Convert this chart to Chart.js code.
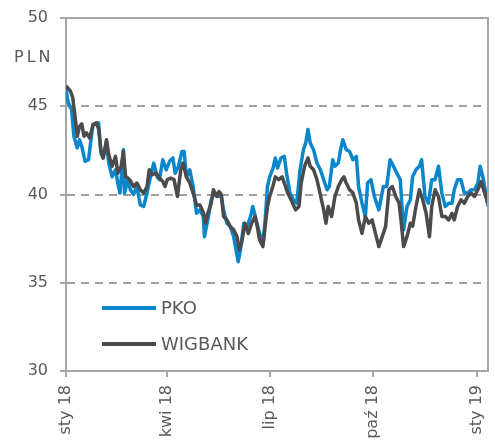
<!DOCTYPE html>
<html><head><meta charset="utf-8">
<script src="https://cdn.jsdelivr.net/npm/chart.js@4"></script>
<style>html,body{margin:0;padding:0;background:#fff;overflow:hidden}#wrap{position:relative;width:495px;height:444px}</style>
</head><body><div id="wrap"><canvas id="c"></canvas></div>
<script>
const tickDays = [0, 90, 181, 273, 365];
const tickLabels = ['sty 18', 'kwi 18', 'lip 18', 'paź 18', 'sty 19'];
const yTicks = [30, 35, 40, 45, 50];
const axisTitle = 'PLN';
const seriesNames = ['PKO', 'WIGBANK'];

const pkoDays = [0,2,5,7,10,12,14,17,20,22,24,29,31,33,36,38,41,44,46,48,51,52,55,57,60,63,66,69,72,75,78,81,83,86,89,92,95,97,100,103,105,107,110,113,116,119,122,123,126,129,132,135,138,140,143,146,149,153,155,158,161,164,166,169,172,175,177,179,181,184,186,188,191,194,196,199,202,205,208,211,213,215,217,220,223,226,229,232,234,237,239,242,244,246,249,252,255,258,260,263,266,268,271,274,278,282,285,288,291,294,297,300,303,306,308,311,314,316,319,322,325,328,331,334,337,340,343,345,348,351,354,357,360,363,366,368,371,374,375];
const pkoValues = [45.95,45.2,44.8,43.3,42.64,43.1,42.73,41.88,41.97,43.0,43.96,44.06,42.35,42.07,42.92,41.78,41.0,41.4,40.65,40.08,42.54,40.08,40.84,40.3,40.0,40.45,39.41,39.32,40.08,41.0,41.78,41.0,40.84,41.97,41.4,41.88,42.07,41.2,41.6,42.44,42.44,41.0,41.4,40.45,38.94,39.13,38.75,37.61,38.56,39.7,40.08,39.9,39.9,39.13,38.37,38.18,37.61,36.19,36.86,38.37,38.18,38.75,39.32,38.56,37.8,37.24,38.56,40.45,41.0,41.5,42.07,41.5,42.07,42.16,41.2,40.08,39.7,39.5,41.4,42.54,42.92,43.68,42.92,42.54,41.78,41.4,40.84,40.27,40.45,41.97,41.6,41.78,42.54,43.1,42.54,42.44,41.97,42.16,40.45,39.51,38.75,40.65,40.84,39.89,39.13,40.45,40.45,41.97,41.6,41.2,40.84,37.99,39.32,39.7,41.0,41.4,41.6,41.97,39.89,39.51,40.84,40.84,41.6,40.08,39.32,39.51,39.51,40.27,40.84,40.84,40.08,40.08,40.27,40.27,40.65,41.6,40.84,39.7,39.32];

const wigDays = [0,4,6,8,10,12,14,16,18,21,24,27,29,31,33,36,38,41,44,46,49,51,53,55,57,60,63,66,69,72,74,77,80,83,86,88,90,93,96,99,102,104,107,110,113,116,119,122,124,126,129,131,134,136,138,140,143,146,149,152,154,156,159,162,165,168,170,172,175,177,179,181,184,186,189,192,194,197,200,204,207,209,212,215,217,220,223,225,227,229,231,233,236,239,242,245,247,249,252,255,258,260,263,266,269,272,275,278,281,284,287,290,293,296,298,300,303,306,308,311,314,317,320,323,325,328,331,334,337,340,343,345,348,351,354,357,360,363,366,369,372,375];
const wigValues = [46.15,45.85,45.48,44.43,43.3,43.86,44.0,43.3,43.5,43.2,43.96,44.06,43.7,42.54,42.07,43.1,42.25,41.6,42.16,41.2,41.6,42.44,41.0,40.93,40.8,40.45,40.65,40.27,40.08,40.45,41.4,41.12,41.22,40.93,40.74,40.45,40.84,40.93,40.84,39.89,41.4,41.78,41.0,40.65,40.08,39.41,39.4,39.0,38.37,38.94,39.5,40.27,39.89,40.17,40.0,38.75,38.56,38.18,38.0,37.61,36.86,37.24,38.37,37.8,38.37,38.75,38.18,37.43,37.05,38.18,39.32,39.89,40.5,41.0,40.84,41.0,40.65,40.08,39.7,39.13,39.32,40.65,41.6,42.07,41.6,41.4,40.84,40.27,39.7,39.13,38.37,39.32,38.75,39.89,40.45,40.84,41.0,40.65,40.27,40.08,39.51,38.56,37.8,38.75,38.37,38.56,37.8,37.05,37.61,38.18,40.27,40.45,39.89,39.51,38.37,37.05,37.61,38.37,38.2,39.32,40.27,39.7,38.94,37.61,39.32,40.27,39.89,38.75,38.75,38.56,38.94,38.56,39.32,39.7,39.51,39.89,40.08,39.89,40.27,40.74,40.08,39.51];

const BLUE = '#0A87CB';
const DARK = '#4B4B4D';
const AXIS = '#a6a6a6';
const GRID = '#a0a0a0';
const TXT = '#595959';
const FONT = 'DejaVu Sans, Verdana, sans-serif';

const toPts = (d, v) => d.map((x, i) => ({x: x, y: v[i]}));

const extras = {
  id: 'extras',
  afterDraw(chart) {
    const ctx = chart.ctx, a = chart.chartArea;
    ctx.save();
    ctx.strokeStyle = AXIS; ctx.lineWidth = 2;
    ctx.beginPath();
    ctx.moveTo(a.left, a.top); ctx.lineTo(a.right, a.top); ctx.lineTo(a.right, a.bottom);
    ctx.stroke();
    ctx.fillStyle = TXT;
    ctx.font = '16px ' + FONT;
    ctx.textAlign = 'left'; ctx.textBaseline = 'middle';
    try { ctx.letterSpacing = '3px'; } catch(e) {}
    ctx.fillText(axisTitle, 14, 58);
    try { ctx.letterSpacing = '0px'; } catch(e) {}
    const ys = [a.bottom - 63, a.bottom - 27];
    chart.data.datasets.forEach((ds, i) => {
      const y = ys[i];
      ctx.strokeStyle = ds.borderColor; ctx.lineWidth = 4; ctx.lineCap = 'butt';
      ctx.beginPath(); ctx.moveTo(a.left + 36, y); ctx.lineTo(a.left + 90, y); ctx.stroke();
      ctx.fillStyle = TXT; ctx.font = '18px ' + FONT;
      ctx.fillText(ds.label, a.left + 95, y + 1);
    });
    ctx.restore();
  }
};

new Chart(document.getElementById('c'), {
  type: 'line',
  data: {
    datasets: [
      {label: seriesNames[0], data: toPts(pkoDays, pkoValues), borderColor: BLUE, borderWidth: 3.5, pointRadius: 0, tension: 0, order: 1, borderJoinStyle: 'round'},
      {label: seriesNames[1], data: toPts(wigDays, wigValues), borderColor: DARK, borderWidth: 3.5, pointRadius: 0, tension: 0, order: 0, borderJoinStyle: 'round'}
    ]
  },
  options: {
    responsive: true, maintainAspectRatio: false, animation: false, devicePixelRatio: 1,
    layout: {padding: {top: 18, right: 7, left: 0, bottom: 0}},
    plugins: {legend: {display: false}, tooltip: {enabled: false}},
    scales: {
      x: {
        type: 'linear', min: 0, max: 375,
        afterBuildTicks(s) { s.ticks = tickDays.map(v => ({value: v})); },
        afterFit(s) { s.height = 73; s.paddingRight = 0; s.paddingLeft = 0; },
        ticks: {
          autoSkip: false, minRotation: 90, maxRotation: 90, padding: 8,
          color: TXT, font: {family: FONT, size: 16},
          callback: (v, i) => tickLabels[i]
        },
        grid: {drawOnChartArea: false, drawTicks: true, tickLength: 6, tickColor: AXIS, tickWidth: 2, color: AXIS, lineWidth: 2},
        border: {color: AXIS, width: 2}
      },
      y: {
        min: 30, max: 50,
        afterBuildTicks(s) { s.ticks = yTicks.map(v => ({value: v})); },
        afterFit(s) { s.width = 66; s.paddingTop = 0; s.paddingBottom = 0; },
        ticks: {color: TXT, font: {family: FONT, size: 16}, padding: 12},
        grid: {
          drawTicks: true, tickLength: 6, tickColor: AXIS, tickWidth: 2, lineWidth: 2,
          color: c => (c.tick && (c.tick.value === 30 || c.tick.value === 50)) ? 'rgba(0,0,0,0)' : GRID
        },
        border: {color: AXIS, width: 2, dash: [8, 6]}
      }
    }
  },
  plugins: [extras]
});
</script>
</body></html>
